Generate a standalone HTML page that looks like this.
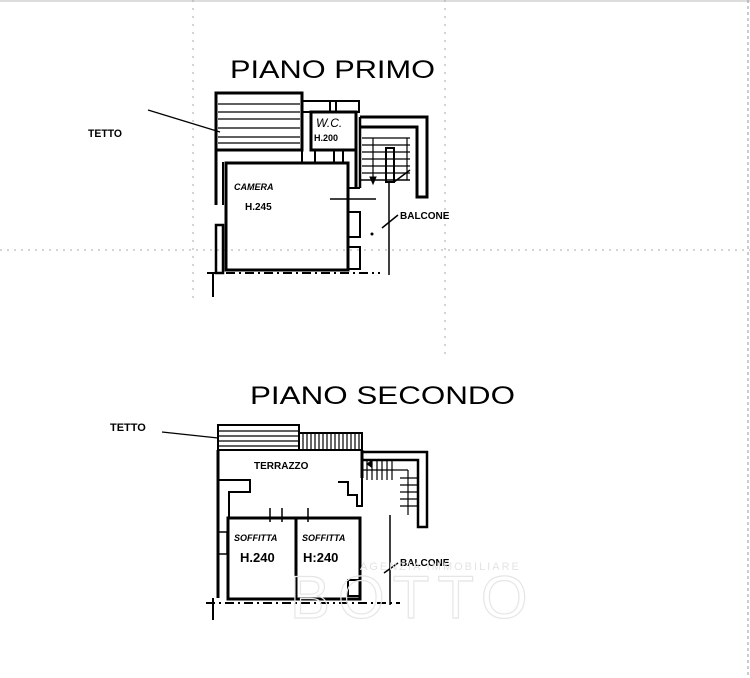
<!DOCTYPE html>
<html><head><meta charset="utf-8"><style>
html,body{margin:0;padding:0;background:#fff;}
svg{display:block}
text{font-family:"Liberation Sans",sans-serif;fill:#000}
</style></head><body>
<svg width="750" height="678" viewBox="0 0 750 678" xmlns="http://www.w3.org/2000/svg">
<rect width="750" height="678" fill="#fff"/>
<!-- faint scan lines -->
<line x1="0" y1="1" x2="750" y2="1" stroke="#bbb" stroke-width="1"/>
<line x1="0" y1="250" x2="750" y2="250" stroke="#aaa" stroke-width="1" stroke-dasharray="2 5"/>
<line x1="445" y1="0" x2="445" y2="360" stroke="#aaa" stroke-width="1" stroke-dasharray="2 6"/>
<line x1="193" y1="0" x2="193" y2="300" stroke="#aaa" stroke-width="1" stroke-dasharray="2 6"/>
<line x1="748" y1="0" x2="748" y2="678" stroke="#999" stroke-width="1" stroke-dasharray="3 3"/>

<!-- PIANO PRIMO -->
<text x="230" y="78" font-size="25" textLength="205" lengthAdjust="spacingAndGlyphs">PIANO PRIMO</text>
<text x="88" y="137" font-size="11" font-weight="bold" textLength="34" lengthAdjust="spacingAndGlyphs">TETTO</text>
<line x1="148" y1="110" x2="220" y2="132" stroke="#000" stroke-width="1.3"/>

<g stroke="#000" fill="none">
<!-- tetto block -->
<rect x="216" y="93" width="86" height="57" stroke-width="3"/>
<g stroke-width="1.3">
<line x1="218" y1="104" x2="300" y2="104"/><line x1="218" y1="112" x2="300" y2="112"/>
<line x1="218" y1="119" x2="300" y2="119"/><line x1="218" y1="128" x2="300" y2="128"/>
<line x1="218" y1="137" x2="300" y2="137"/><line x1="218" y1="143" x2="300" y2="143"/>
</g>
<!-- left wall -->
<line x1="216" y1="150" x2="216" y2="205" stroke-width="3"/>
<line x1="223" y1="162" x2="223" y2="205" stroke-width="2"/>
<rect x="216" y="225" width="7" height="48" stroke-width="2.5"/>
<line x1="213" y1="272" x2="213" y2="297" stroke-width="2"/>
<!-- camera -->
<rect x="226" y="163" width="122" height="107" stroke-width="3"/>
<path d="M302 150 V163" stroke-width="2"/>
<!-- wc -->
<rect x="311" y="112" width="45" height="38" stroke-width="3"/>
<rect x="302" y="101" width="57" height="11" stroke-width="2"/>
<line x1="330" y1="101" x2="330" y2="112" stroke-width="2"/><line x1="336" y1="101" x2="336" y2="112" stroke-width="2"/>
<line x1="315" y1="150" x2="315" y2="163" stroke-width="2"/><line x1="334" y1="150" x2="334" y2="163" stroke-width="2"/>
<line x1="343" y1="150" x2="343" y2="163" stroke-width="2"/><line x1="356" y1="150" x2="356" y2="188" stroke-width="3"/>
<!-- right wall of camera -->
<line x1="348" y1="188" x2="360" y2="188" stroke-width="2"/>
<rect x="348" y="212" width="12" height="25" stroke-width="2"/>
<rect x="348" y="247" width="12" height="22" stroke-width="2"/>
<line x1="330" y1="199" x2="376" y2="199" stroke-width="1.5"/>
<!-- stair box -->
<path d="M360 117 H427 V197 H417 V127 H360" stroke-width="3"/>
<line x1="360" y1="117" x2="360" y2="188" stroke-width="2.5"/>
<g stroke-width="1.2">
<line x1="362" y1="138" x2="410" y2="138"/><line x1="362" y1="145" x2="410" y2="145"/>
<line x1="362" y1="152" x2="410" y2="152"/><line x1="362" y1="159" x2="410" y2="159"/>
<line x1="362" y1="166" x2="410" y2="166"/><line x1="362" y1="173" x2="410" y2="173"/>
<line x1="373" y1="138" x2="373" y2="180"/><line x1="407" y1="138" x2="407" y2="180"/>
</g>
<rect x="386" y="148" width="8" height="34" stroke-width="2"/>
<path d="M370 177 L373 184 L376 177 Z" fill="#000"/>
<line x1="394" y1="182" x2="410" y2="170" stroke-width="1.5"/>
<line x1="360" y1="180" x2="410" y2="180" stroke-width="1.5"/>
<line x1="389" y1="182" x2="389" y2="275" stroke-width="1.5"/>
<line x1="207" y1="273" x2="380" y2="273" stroke-width="2" stroke-dasharray="9 4 2 4"/>
</g>
<text x="234" y="190" font-size="9" font-weight="bold" font-style="italic">CAMERA</text>
<text x="245" y="210" font-size="10" font-weight="bold">H.245</text>
<text x="316" y="127" font-size="12" font-style="italic">W.C.</text>
<text x="314" y="141" font-size="9" font-weight="bold">H.200</text>
<text x="400" y="219" font-size="10" font-weight="bold">BALCONE</text>
<path d="M398 215 L382 228" stroke="#000" stroke-width="1.5"/>
<circle cx="372" cy="234" r="1.5"/>

<!-- PIANO SECONDO -->
<text x="250" y="404" font-size="25" textLength="265" lengthAdjust="spacingAndGlyphs">PIANO SECONDO</text>
<text x="110" y="431" font-size="11" font-weight="bold">TETTO</text>
<line x1="162" y1="432" x2="218" y2="438" stroke="#000" stroke-width="1.3"/>
<g stroke="#000" fill="none">
<rect x="218" y="425" width="81" height="25" stroke-width="2"/>
<g stroke-width="1.2"><line x1="219" y1="431" x2="298" y2="431"/><line x1="219" y1="436" x2="298" y2="436"/><line x1="219" y1="441" x2="298" y2="441"/><line x1="219" y1="446" x2="298" y2="446"/></g>
<rect x="299" y="433" width="63" height="17" stroke-width="2"/>
<path d="M303 433 V450 M307 433 V450 M311 433 V450 M315 433 V450 M319 433 V450 M323 433 V450 M327 433 V450 M331 433 V450 M335 433 V450 M339 433 V450 M343 433 V450 M347 433 V450 M351 433 V450 M355 433 V450 M359 433 V450" stroke-width="1.2"/>
<!-- terrazzo -->
<path d="M218 450 V598" stroke-width="3"/>
<path d="M362 450 V478" stroke-width="3"/>
<path d="M218 480 H250 V492 H229 V518" stroke-width="2"/>
<path d="M338 482 H348 V495 H357 V506 H362 V478" stroke-width="2"/>
<rect x="218" y="532" width="9" height="22" stroke-width="1.5"/>
<!-- soffitte -->
<rect x="228" y="518" width="132" height="81" stroke-width="3"/>
<line x1="296" y1="518" x2="296" y2="599" stroke-width="3"/>
<line x1="270" y1="508" x2="270" y2="522" stroke-width="1.5"/><line x1="282" y1="508" x2="282" y2="522" stroke-width="1.5"/>
<line x1="308" y1="508" x2="308" y2="522" stroke-width="1.5"/>
<!-- stairs -->
<path d="M362 452 H427 V527 H418 V460 H362" stroke-width="2.5"/>
<g stroke-width="1.2">
<line x1="367" y1="460" x2="367" y2="480"/><line x1="372" y1="460" x2="372" y2="480"/><line x1="377" y1="460" x2="377" y2="480"/>
<line x1="382" y1="460" x2="382" y2="480"/><line x1="387" y1="460" x2="387" y2="480"/><line x1="392" y1="460" x2="392" y2="480"/>
<line x1="400" y1="478" x2="418" y2="478"/><line x1="400" y1="485" x2="418" y2="485"/><line x1="400" y1="492" x2="418" y2="492"/>
<line x1="400" y1="499" x2="418" y2="499"/><line x1="400" y1="506" x2="418" y2="506"/>
<line x1="362" y1="470" x2="408" y2="470"/><line x1="408" y1="470" x2="408" y2="515"/>
</g>
<line x1="390" y1="515" x2="390" y2="605" stroke-width="1.5"/>
<path d="M360 580 H348 V596 H360" stroke-width="2"/>
<line x1="206" y1="603" x2="400" y2="603" stroke-width="2" stroke-dasharray="9 4 2 4"/>
<line x1="213" y1="598" x2="213" y2="620" stroke-width="2"/>
</g>
<path d="M366 464 L372 460 L372 468 Z" fill="#000"/>
<text x="254" y="469" font-size="10" font-weight="bold">TERRAZZO</text>
<text x="234" y="541" font-size="9" font-weight="bold" font-style="italic">SOFFITTA</text>
<text x="302" y="541" font-size="9" font-weight="bold" font-style="italic">SOFFITTA</text>
<text x="240" y="562" font-size="13" font-weight="bold">H.240</text>
<text x="303" y="562" font-size="13" font-weight="bold">H:240</text>
<text x="400" y="566" font-size="10" font-weight="bold">BALCONE</text>
<line x1="398" y1="563" x2="384" y2="573" stroke="#000" stroke-width="1.5"/>
<!-- watermark -->
<text x="360" y="570" font-size="11" fill="#e2e2e2" style="fill:#e4e4e4" letter-spacing="2">AGENZIA IMMOBILIARE</text>
<text x="290" y="618" font-size="60" style="fill:none;stroke:#e6e6e6;stroke-width:1.2" letter-spacing="8">BOTTO</text>
</svg>
</body></html>
